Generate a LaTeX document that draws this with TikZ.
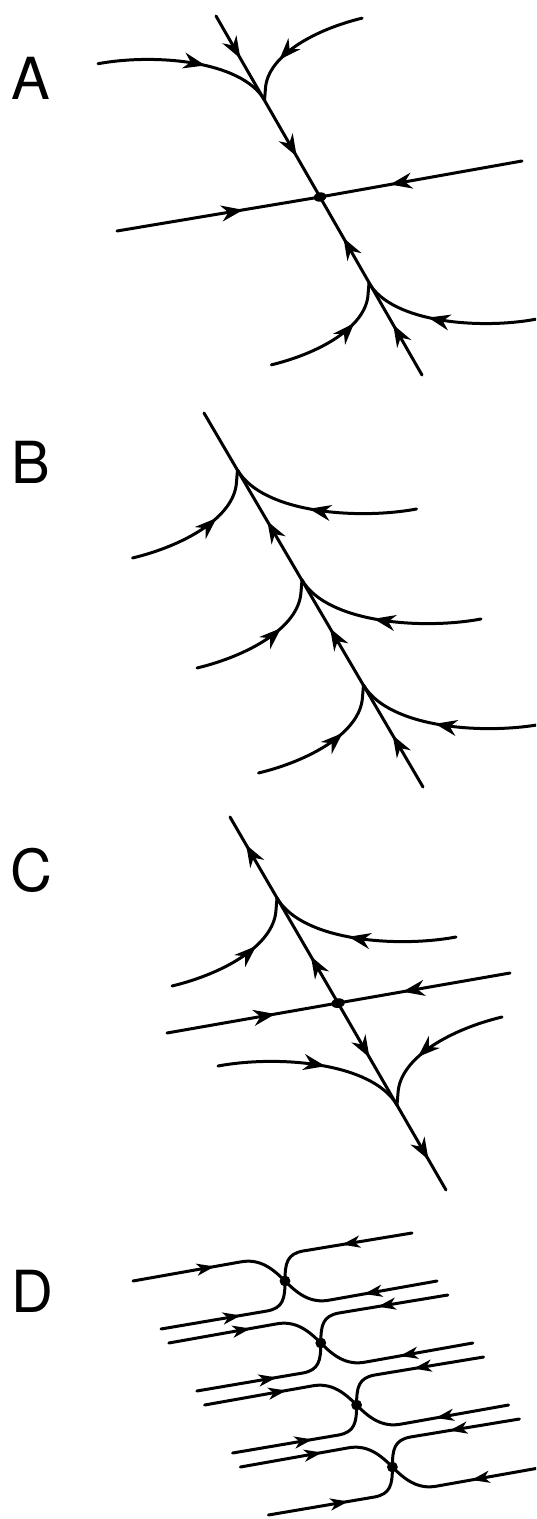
\documentclass[tikz,border=0pt]{standalone}
\usepackage{fontspec}
\setmainfont{TeX Gyre Heros}
\usetikzlibrary{arrows.meta, decorations.markings}

\begin{document}
\begin{tikzpicture}[x=0.5pt, y=-0.5pt,
    >={Stealth[length=11pt, width=8pt, inset=3.5pt]},
    every node/.style={font=\fontsize{29}{30}\selectfont, inner sep=0pt, anchor=base},
    orbit/.style={line width=1.5pt, line cap=round},
    flow/.style={postaction={decorate, decoration={markings,
        mark=at position #1 with {\arrow{>}}}}},
    junc/.pic={
      \draw[orbit, flow=47pt] (-105,88) .. controls (-55,76) and (-3,48) .. (-1,12) .. controls (-0.5,6) and (-0.3,3) .. (0,0);
      \draw[orbit, flow=54pt] (179,39) .. controls (120,50) and (25,43) .. (0,0);
    },
    xsad/.pic={
      \draw[orbit, flow=41.5pt] (-152,0) -- (-45,-19) .. controls (-25,-23) and (-12,-12) .. (0,0);
      \draw[orbit, flow=37pt] (152,0) -- (45,19) .. controls (25,23) and (12,12) .. (0,0);
      \draw[orbit, flow=35.5pt] (127,-48) -- (18,-30) .. controls (2,-27) and (0,-18) .. (0,0);
      \draw[orbit, flow=40.5pt] (-124,48) -- (-18,30) .. controls (-2,27) and (0,18) .. (0,0);
    }]
  \useasboundingbox (0,0) rectangle (536,1519);
  \clip (0,0) rectangle (536,1519);

  \node (labA) at (31,100) {A};
  \node (labB) at (31,483) {B};
  \node (labC) at (31,891) {C};
  \node (labD) at (32,1312) {D};

  % A
  \coordinate (sA) at (320,197);
  \coordinate (dA1) at (216,16);
  \coordinate (dA2) at (422,375);
  \coordinate (hA1) at (117,231);
  \coordinate (hA2) at (522,161);
  \coordinate (jA1) at (264.5,100);
  \coordinate (jA2) at (369,283);
  \draw[orbit, flow=24.5pt, flow=81pt] (dA1) -- (sA);
  \draw[orbit, flow=29pt, flow=79pt] (dA2) -- (sA);
  \draw[orbit, flow=64pt] (hA1) -- (sA);
  \draw[orbit, flow=67pt] (hA2) -- (sA);
  \pic[rotate=180, scale=0.93] at (jA1) {junc};
  \pic[scale=0.93] at (jA2) {junc};
  \fill[rotate around={10:(sA)}] (sA) ellipse (3.2pt and 2.3pt);

  % B
  \coordinate (dB1) at (204,413);
  \coordinate (dB2) at (423,787);
  \coordinate (jB1) at (237.5,470);
  \coordinate (jB2) at (302,580);
  \coordinate (jB3) at (363.5,685);
  \draw[orbit, flow=30pt, flow=92pt, flow=154pt] (dB2) -- (dB1);
  \foreach \k in {1,2,3}
    \pic at (jB\k) {junc};

  % C
  \coordinate (sC) at (338,1003);
  \coordinate (dC1) at (230,817);
  \coordinate (dC2) at (446,1190);
  \coordinate (hC1) at (167,1033);
  \coordinate (hC2) at (510,973);
  \coordinate (jC1) at (277,898);
  \coordinate (jC2) at (397,1105);
  \draw[orbit, flow=27pt, flow=91.5pt] (sC) -- (dC1);
  \draw[orbit, flow=31.5pt, flow=90.5pt] (sC) -- (dC2);
  \draw[orbit, flow=55pt] (hC1) -- (sC);
  \draw[orbit, flow=54.5pt] (hC2) -- (sC);
  \pic at (jC1) {junc};
  \pic[rotate=180] at (jC2) {junc};
  \fill[rotate around={10:(sC)}] (sC) ellipse (3.4pt and 2.4pt);

  % D
  \foreach \k in {0,...,3} {
    \coordinate (sD\k) at (285+35.8*\k, 1281+62*\k);
    \pic[>={Stealth[length=9pt, width=6pt, inset=2.5pt]}] at (sD\k) {xsad};
    \fill (sD\k) circle (2.7pt);
  }
\end{tikzpicture}
\end{document}
